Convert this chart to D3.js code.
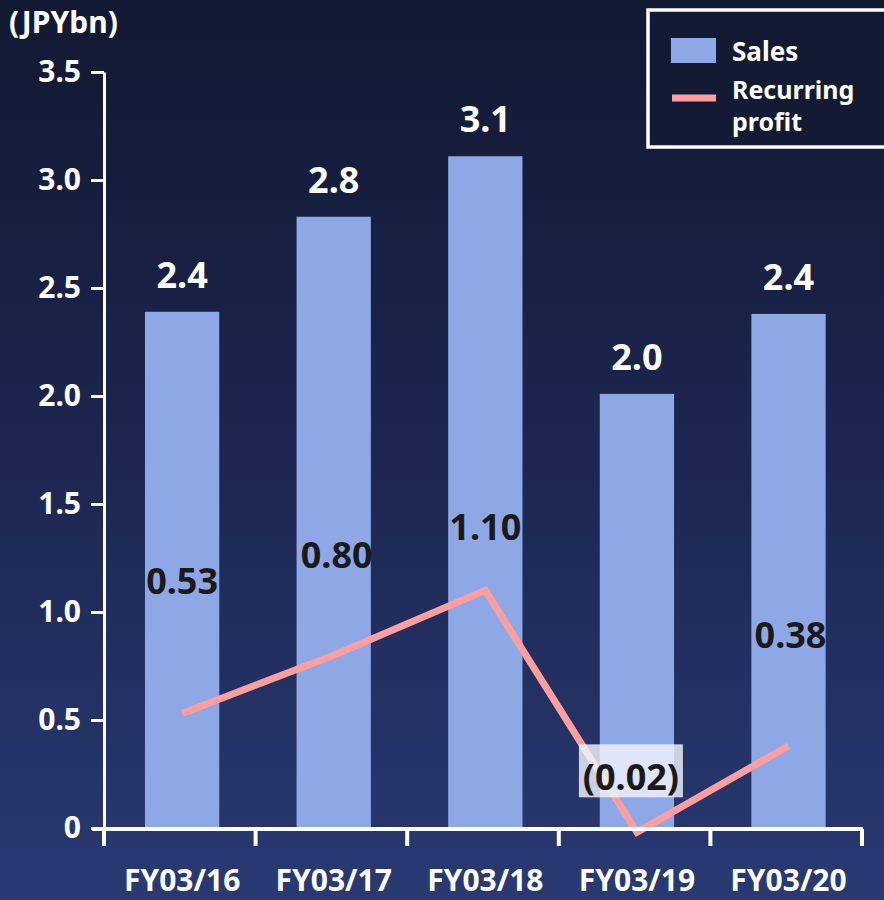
<!DOCTYPE html>
<html>
<head>
<meta charset="utf-8">
<script src="https://cdn.jsdelivr.net/npm/d3@7/dist/d3.min.js"></script>
<style>
  html, body { margin: 0; padding: 0; background: #131a34; }
  svg { display: block; font-family: "Noto Sans", "Open Sans", sans-serif; font-weight: 700; }
</style>
</head>
<body>
<svg id="chart" width="884" height="900"></svg>
<script>
// Fiscal years on the x axis
const categories = ["FY03/16", "FY03/17", "FY03/18", "FY03/19", "FY03/20"];
// Sales, JPY billions (bars)
const sales = [2.39, 2.83, 3.11, 2.01, 2.38];
// Recurring profit, JPY billions (line)
const recurringProfit = [0.53, 0.80, 1.10, -0.02, 0.38];
// Y-axis tick values
const yTicks = [0, 0.5, 1.0, 1.5, 2.0, 2.5, 3.0, 3.5];
const seriesNames = ["Sales", "Recurring profit"];
const unitLabel = "(JPYbn)";

// Label offsets for the profit values (layout only)
const profitLabelOffset = [[0, -120], [3, -87], [0, -50], [-6, -42], [2, -98]];

const W = 884, H = 900;
const svg = d3.select("#chart");

// background gradient
const defs = svg.append("defs");
const grad = defs.append("linearGradient").attr("id", "bg").attr("x1", 0).attr("y1", 0).attr("x2", 0).attr("y2", 1);
grad.append("stop").attr("offset", "0%").attr("stop-color", "#121932");
grad.append("stop").attr("offset", "50%").attr("stop-color", "#1c2650");
grad.append("stop").attr("offset", "100%").attr("stop-color", "#293a73");
svg.append("rect").attr("width", W).attr("height", H).attr("fill", "url(#bg)");

const x = d3.scaleBand().domain(categories).range([104, 862])
  .paddingInner(0.51).paddingOuter(0.255).align(0.53);
const y = d3.scaleLinear().domain([0, 3.5]).range([828, 72]);

const barColor = "#8ea8e6";
const lineColor = "#ff9e9e";

// bars
svg.append("g").selectAll("rect").data(sales).join("rect")
  .attr("x", (d, i) => x(categories[i]))
  .attr("width", x.bandwidth())
  .attr("y", d => y(d))
  .attr("height", d => y(0) - y(d))
  .attr("fill", barColor);

// bar value labels
svg.append("g").selectAll("text").data(sales).join("text")
  .attr("x", (d, i) => x(categories[i]) + x.bandwidth() / 2)
  .attr("y", d => y(d) - 24)
  .attr("text-anchor", "middle")
  .attr("fill", "#ffffff")
  .attr("font-size", 36)
  .text(d => d3.format(".1f")(d));

// recurring profit line
const cx = (i) => x(categories[i]) + x.bandwidth() / 2;
const line = d3.line().x((d, i) => cx(i)).y(d => y(d));
svg.append("path").datum(recurringProfit)
  .attr("d", line)
  .attr("fill", "none")
  .attr("stroke", lineColor)
  .attr("stroke-width", 7)
  .attr("stroke-linejoin", "miter");

// profit labels
const fmtProfit = d => d < 0 ? "(" + d3.format(".2f")(-d) + ")" : d3.format(".2f")(d);
const pl = svg.append("g");
recurringProfit.forEach((d, i) => {
  const px = cx(i) + profitLabelOffset[i][0];
  const py = y(d) + profitLabelOffset[i][1];
  if (d < 0) {
    pl.append("rect")
      .attr("x", px - 52).attr("y", py - 46)
      .attr("width", 104).attr("height", 53)
      .attr("fill", "rgba(240,244,252,0.82)");
  }
  pl.append("text")
    .attr("x", px).attr("y", py)
    .attr("text-anchor", "middle")
    .attr("fill", "#1a1a1a")
    .attr("font-size", 36)
    .text(fmtProfit(d));
});

// y axis
const yAxis = svg.append("g").attr("transform", "translate(104,0)")
  .call(d3.axisLeft(y).tickValues(yTicks).tickSize(13).tickSizeOuter(0).tickPadding(10)
    .tickFormat(d => d === 0 ? "0" : d3.format(".1f")(d)));
yAxis.select(".domain").attr("stroke", "#ffffff").attr("stroke-width", 3);
yAxis.selectAll(".tick line").attr("stroke", "#ffffff").attr("stroke-width", 3);
yAxis.selectAll(".tick text").attr("fill", "#ffffff").attr("font-size", 30)
  .attr("font-family", "Noto Sans, sans-serif").attr("font-weight", 700);

// x axis
const xAxis = svg.append("g").attr("transform", "translate(0,829)")
  .call(d3.axisBottom(x).tickSize(0));
xAxis.select(".domain").attr("stroke", "none");
xAxis.selectAll(".tick text").attr("fill", "#ffffff").attr("font-size", 30)
  .attr("font-family", "Noto Sans, sans-serif").attr("font-weight", 700)
  .attr("y", 62).attr("dy", null);
svg.append("line").attr("x1", 92).attr("x2", 863).attr("y1", 829).attr("y2", 829)
  .attr("stroke", "#ffffff").attr("stroke-width", 4);
const bounds = d3.range(categories.length + 1).map(i => 104 + i * (758 / categories.length));
svg.append("g").selectAll("line").data(bounds).join("line")
  .attr("x1", d => d).attr("x2", d => d).attr("y1", 829).attr("y2", 846)
  .attr("stroke", "#ffffff").attr("stroke-width", 4);

// unit label
svg.append("text").attr("x", 9).attr("y", 33).attr("fill", "#ffffff").attr("font-size", 30).text(unitLabel);

// legend
const lg = svg.append("g");
lg.append("rect").attr("x", 648).attr("y", 10).attr("width", 250).attr("height", 137)
  .attr("fill", "#131a34").attr("stroke", "#ffffff").attr("stroke-width", 3.5);
lg.append("rect").attr("x", 671).attr("y", 38).attr("width", 45).attr("height", 25).attr("fill", barColor);
lg.append("line").attr("x1", 672).attr("x2", 716).attr("y1", 98).attr("y2", 98)
  .attr("stroke", lineColor).attr("stroke-width", 7);
lg.append("text").attr("x", 732).attr("y", 61).attr("fill", "#ffffff").attr("font-size", 26).text(seriesNames[0]);
const words = seriesNames[1].split(" ");
lg.append("text").attr("x", 732).attr("y", 99).attr("fill", "#ffffff").attr("font-size", 25).text(words[0]);
lg.append("text").attr("x", 732).attr("y", 131).attr("fill", "#ffffff").attr("font-size", 25).text(words[1]);
</script>
</body>
</html>
